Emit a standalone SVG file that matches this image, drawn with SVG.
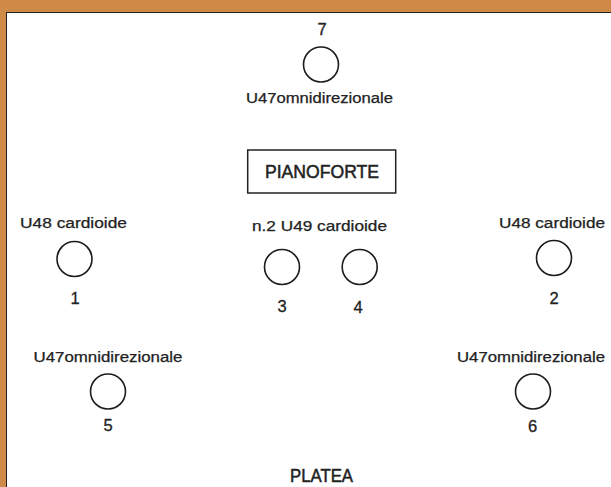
<svg xmlns="http://www.w3.org/2000/svg" width="611" height="487" viewBox="0 0 611 487">
<style>
text{font-family:"Liberation Sans",Arial,sans-serif;font-size:14px;fill:#222;text-anchor:middle;stroke:#222;stroke-width:.25px}
text.n{font-size:16.500px;stroke-width:.3px}
text.c{font-size:17.500px;stroke-width:.5px}
circle{fill:#fff;stroke:#1c1c1c;stroke-width:1.600}
</style>
<rect width="611" height="487" fill="#cf8a48"/>
<rect x="6.500" y="12.500" width="605" height="475" fill="#fff" stroke="#222" stroke-width="1"/>
<g id="connectors"></g>
<g id="mic7"><text class="n" x="322" y="35">7</text><circle cx="321" cy="64.500" r="17.500"/><text x="319.500" y="102.500" textLength="147" lengthAdjust="spacingAndGlyphs">U47omnidirezionale</text></g>
<g id="pianoforte"><rect x="247.700" y="150" width="148" height="43" fill="#fff" stroke="#222" stroke-width="1.500"/><text class="c" x="322" y="178" textLength="114" lengthAdjust="spacingAndGlyphs">PIANOFORTE</text></g>
<g id="mic1"><text x="73.500" y="228" textLength="107" lengthAdjust="spacingAndGlyphs">U48 cardioide</text><circle cx="74.500" cy="259" r="17.500"/><text class="n" x="75" y="304">1</text></g>
<g id="mics34"><text x="319.500" y="231" textLength="135" lengthAdjust="spacingAndGlyphs">n.2 U49 cardioide</text><circle cx="282" cy="267" r="17.500"/><circle cx="359.700" cy="267" r="17.500"/><text class="n" x="282" y="312">3</text><text class="n" x="358" y="313">4</text></g>
<g id="mic2"><text x="552" y="228" textLength="106" lengthAdjust="spacingAndGlyphs">U48 cardioide</text><circle cx="554" cy="258" r="17.500"/><text class="n" x="554" y="304">2</text></g>
<g id="mic5"><text x="108" y="362" textLength="149" lengthAdjust="spacingAndGlyphs">U47omnidirezionale</text><circle cx="108" cy="391.500" r="17.500"/><text class="n" x="108" y="431">5</text></g>
<g id="mic6"><text x="531" y="362" textLength="148" lengthAdjust="spacingAndGlyphs">U47omnidirezionale</text><circle cx="533" cy="391.500" r="17.500"/><text class="n" x="532.700" y="432">6</text></g>
<text id="platea" class="c" x="321.500" y="481.500" textLength="63" lengthAdjust="spacingAndGlyphs">PLATEA</text>
</svg>
